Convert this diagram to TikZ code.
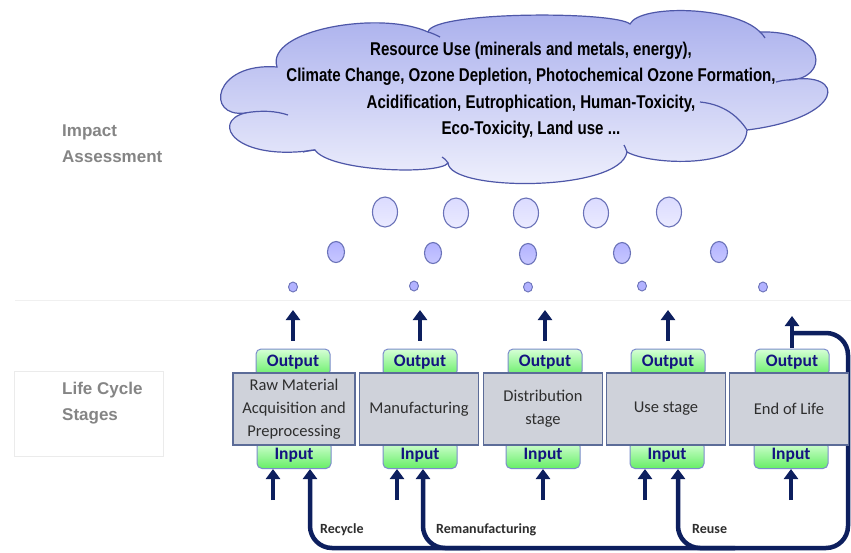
\documentclass[tikz,border=0pt]{standalone}
\usepackage{fontspec}
\setmainfont{Carlito}
\newfontfamily\cloudfont[FakeStretch=0.815]{Liberation Sans}
\newfontfamily\sidefont{Liberation Sans}
\usetikzlibrary{arrows.meta,shapes.geometric}

\definecolor{navy}{HTML}{0D1F5E}
\definecolor{cloudedge}{HTML}{4E57A8}
\definecolor{cloudtop}{HTML}{A7ADEC}
\definecolor{cloudbot}{HTML}{F1F2FD}
\definecolor{boxfill}{HTML}{CFD2DA}
\definecolor{boxedge}{HTML}{5C6C98}
\definecolor{tabtop}{HTML}{D6FFD6}
\definecolor{tabbot}{HTML}{66EE66}
\definecolor{tabedge}{HTML}{7C8CCC}
\definecolor{tabtext}{HTML}{141480}
\definecolor{sidegray}{HTML}{858585}
\definecolor{labelgray}{HTML}{2E2E2E}
\definecolor{bubbleedge}{HTML}{6A72B8}

\tikzset{
  stagebox/.style={draw=boxedge, line width=1.3pt, fill=boxfill,
    minimum width=119pt, minimum height=72pt, inner sep=0pt, align=center,
    text=labelgray, font=\fontsize{16.5}{23}\selectfont},
  tab/.style={draw=tabedge, line width=1pt, top color=tabtop, bottom color=tabbot,
    rounded corners=5pt, minimum width=74pt, minimum height=27pt, inner sep=0pt,
    text=tabtext, font=\bfseries\fontsize{17.5}{20}\selectfont},
  bigarrow/.style={draw=navy, line width=4.5pt, -{Triangle[width=14pt,length=10pt]}},
  loopline/.style={draw=navy, line width=4.5pt, rounded corners=22pt,
    -{Triangle[width=14pt,length=10pt]}},
  bubble/.style={ellipse, draw=bubbleedge, line width=1.1pt, inner sep=0pt},
  bigbubble/.style={bubble, minimum width=25pt, minimum height=30pt,
    top color=blue!14!white, bottom color=blue!8!white},
  midbubble/.style={bubble, minimum width=17pt, minimum height=21pt,
    top color=blue!30!white, bottom color=blue!22!white},
  smallbubble/.style={bubble, minimum width=9pt, minimum height=10pt,
    fill=blue!30!white, line width=0.9pt},
  loopword/.style={anchor=base west, inner sep=0pt, text=labelgray,
    font=\bfseries\fontsize{14}{16}\selectfont},
  sidetext/.style={anchor=north west, inner sep=0pt, align=left, text=sidegray,
    font=\sidefont\bfseries\fontsize{17}{26}\selectfont},
  cloudline/.style={draw=cloudedge, line width=1.2pt},
}

\begin{document}
\begin{tikzpicture}[x=1pt, y=-1pt]
\useasboundingbox (0,0) rectangle (851,552);
\fill[white] (0,0) rectangle (851,552);

% faint layout guides
\draw[black!6, line width=0.8pt] (15,300) -- (851,300);
\draw[black!8, line width=0.8pt] (14,371) rectangle (163,456);

% side headings
\node[sidetext] (impact) at (62,125) {Impact\\Assessment};
\node[sidetext] (lcs) at (62,382) {Life Cycle\\Stages};

% impact cloud, one curve per puff
\draw[cloudline, top color=cloudtop, bottom color=cloudbot]
  (245,113) .. controls (205,118) and (213,62) .. (277,67)
            .. controls (265,30) and (380,10) .. (428,32)
            .. controls (432,11) and (615,11) .. (630,24)
            .. controls (640,4) and (735,6) .. (760,32)
            .. controls (829,30) and (829,80) .. (788,80)
            .. controls (848,70) and (845,118) .. (747,130)
            .. controls (745,170) and (650,165) .. (627,152)
            .. controls (620,192) and (450,192) .. (448,163)
            .. controls (440,175) and (330,172) .. (315,150)
            .. controls (235,162) and (210,122) .. (245,113) -- cycle;
% inner folds of the puffs
\draw[cloudline] (245,113) .. controls (262,110) and (276,111) .. (288,115);
\draw[cloudline] (747,130) .. controls (736,113) and (720,104) .. (700,102);
\draw[cloudline] (428,32) .. controls (432,33) and (436,35) .. (440,37);
\draw[cloudline] (760,32) .. controls (762,34) and (764,36) .. (765,38);
\draw[cloudline] (788,80) .. controls (784,80) and (780,81) .. (776,82);
\draw[cloudline] (627,152) .. controls (626,149) and (625,147) .. (624,145);
\draw[cloudline] (448,163) .. controls (446,160) and (444,158) .. (442,157);
\draw[cloudline] (315,150) .. controls (311,150) and (307,151) .. (303,152);

\node[align=center, inner sep=0pt, font=\cloudfont\bfseries\fontsize{18.5}{26.5}\selectfont]
  (impacts) at (531,90)
  {Resource Use (minerals and metals, energy),\\
   Climate Change, Ozone Depletion, Photochemical Ozone Formation,\\
   Acidification, Eutrophication, Human-Toxicity,\\
   Eco-Toxicity, Land use ...};

% rising bubbles
\node[bigbubble] (bb1) at (385,212) {};
\node[bigbubble] (bb2) at (456,213) {};
\node[bigbubble] (bb3) at (526,213) {};
\node[bigbubble] (bb4) at (596,213) {};
\node[bigbubble] (bb5) at (669,212) {};
\node[midbubble] (mb1) at (336,252) {};
\node[midbubble] (mb2) at (433,253) {};
\node[midbubble] (mb3) at (528,254) {};
\node[midbubble] (mb4) at (622,253) {};
\node[midbubble] (mb5) at (719,252) {};
\node[smallbubble] (sb1) at (293,287) {};
\node[smallbubble] (sb2) at (414,286) {};
\node[smallbubble] (sb3) at (528,287) {};
\node[smallbubble] (sb4) at (642,286) {};
\node[smallbubble] (sb5) at (763,287) {};

% feedback loops (behind the stage boxes)
\coordinate (eolfork) at (793,333);
\coordinate (loopR) at (848,333);
\coordinate (loopRB) at (848,548);
\coordinate (loopL) at (310,548);
\coordinate (remanjoin) at (480,548);
\coordinate (remanup) at (423,500);
\coordinate (reusejoin) at (735,548);
\coordinate (reuseup) at (678,500);

% input / output tabs
\node[tab] (out1) at (293,362.5) {Output};
\node[tab] (out2) at (420,362.5) {Output};
\node[tab] (out3) at (545,362.5) {Output};
\node[tab] (out4) at (668,362.5) {Output};
\node[tab] (out5) at (792,362.5) {Output};
\node[tab] (in1) at (294,455) {Input};
\node[tab] (in2) at (420,455) {Input};
\node[tab] (in3) at (543,455) {Input};
\node[tab] (in4) at (667,455) {Input};
\node[tab] (in5) at (791,455) {Input};

\draw[loopline] (eolfork) -- (loopR) -- (loopRB) -- (loopL) -- (loopL |- in1.south);
\draw[loopline] (remanjoin) -| (remanup |- in2.south);
\draw[loopline] (reusejoin) -| (reuseup |- in4.south);

% life cycle stages
\node[stagebox, minimum width=122pt] (raw) at (294,409) {Raw Material\\Acquisition and\\Preprocessing};
\node[stagebox] (manu) at (419,409) {Manufacturing};
\node[stagebox] (dist) at (543,409) {Distribution\\stage};
\node[stagebox] (use) at (666,409) {Use stage};
\node[stagebox] (eol) at (789,409) {End of Life};

% emissions leaving each stage
\coordinate (up1) at (293,310);
\coordinate (up2) at (420,310);
\coordinate (up3) at (545,310);
\coordinate (up4) at (668,310);
\coordinate (up5) at (792,316);
\draw[bigarrow] ([yshift=8pt]out1.north) -- (up1);
\draw[bigarrow] ([yshift=8pt]out2.north) -- (up2);
\draw[bigarrow] ([yshift=8pt]out3.north) -- (up3);
\draw[bigarrow] ([yshift=8pt]out4.north) -- (up4);
\draw[bigarrow] ([yshift=1pt]out5.north) -- (up5);

% resources entering each stage
\coordinate (feed1) at (273,500);
\coordinate (feed2) at (397,500);
\coordinate (feed3) at (543,500);
\coordinate (feed4) at (645,500);
\coordinate (feed5) at (791,500);
\draw[bigarrow] (feed1) -- (feed1 |- in1.south);
\draw[bigarrow] (feed2) -- (feed2 |- in2.south);
\draw[bigarrow] (feed3) -- (feed3 |- in3.south);
\draw[bigarrow] (feed4) -- (feed4 |- in4.south);
\draw[bigarrow] (feed5) -- (feed5 |- in5.south);

% loop labels
\node[loopword] (recycle) at (320,533) {Recycle};
\node[loopword] (reman) at (436,533) {Remanufacturing};
\node[loopword] (reuse) at (692,533) {Reuse};
\end{tikzpicture}
\end{document}
